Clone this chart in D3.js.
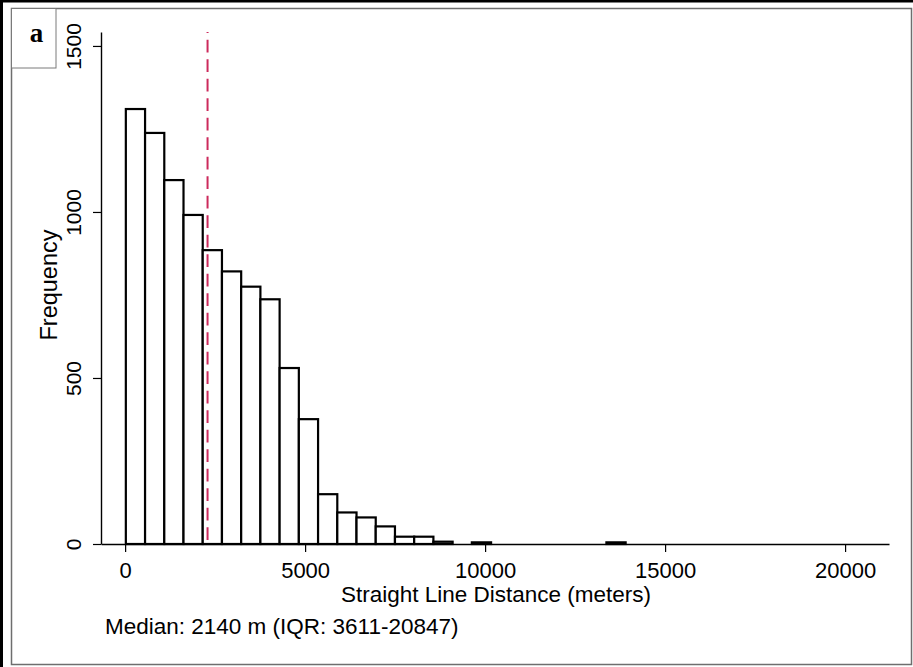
<!DOCTYPE html>
<html>
<head>
<meta charset="utf-8">
<script src="https://cdn.jsdelivr.net/npm/d3@7"></script>
<style>
  html, body { margin: 0; padding: 0; background: #fff; }
  svg { display: block; }
  text { fill: #000; }
</style>
</head>
<body>
<svg id="chart" width="913" height="667"></svg>
<script>
// ---- data ----
const binStart = 20;          // metres, left edge of first bin
const binWidth = 534;         // metres per bin
const counts = [1310, 1238, 1096, 991, 885, 821, 775, 737, 530, 376,
                150, 95, 80, 53, 22, 22, 7, 0, 5, 0,
                0, 0, 0, 0, 0, 5, 0, 0, 0, 0,
                0, 0, 0, 0, 0, 0, 0, 0, 0];
const xTicks = [0, 5000, 10000, 15000, 20000];
const yTicks = [0, 500, 1000, 1500];
const refLineValue = 2290;
const panelLabel = "a";
const xTitle = "Straight Line Distance (meters)";
const yTitle = "Frequency";
const note = "Median: 2140 m (IQR: 3611-20847)";

const sans = "'Liberation Sans', Arial, sans-serif";
const serif = "'Liberation Serif', 'Times New Roman', serif";

const bins = counts.map((c, i) => ({ x0: binStart + i * binWidth, x1: binStart + (i + 1) * binWidth, n: c }))
                   .filter(d => d.n > 0);

const svg = d3.select("#chart");

// frame
svg.append("line").attr("x1", 0).attr("y1", 1.2).attr("x2", 913).attr("y2", 1.2)
   .attr("stroke", "#000").attr("stroke-width", 2.5);
svg.append("line").attr("x1", 1.5).attr("y1", 0).attr("x2", 1.5).attr("y2", 667)
   .attr("stroke", "#000").attr("stroke-width", 3);
svg.append("rect").attr("x", 11.5).attr("y", 8.5).attr("width", 900).attr("height", 656)
   .attr("fill", "#fff").attr("stroke", "#6e6e6e").attr("stroke-width", 1.5);

// scales
const x = d3.scaleLinear().domain([-670, 21220]).range([101, 889]);
const y = d3.scaleLinear().domain([0, 1542]).range([544, 32]);

// bars
svg.append("g").selectAll("rect").data(bins).join("rect")
  .attr("x", d => x(d.x0))
  .attr("y", d => y(d.n))
  .attr("width", d => x(d.x1) - x(d.x0))
  .attr("height", d => y(0) - y(d.n))
  .attr("fill", "#fff")
  .attr("stroke", "#000")
  .attr("stroke-width", 2.2);

// reference line
svg.append("line")
  .attr("x1", x(refLineValue)).attr("x2", x(refLineValue))
  .attr("y1", y(1542)).attr("y2", y(0))
  .attr("stroke", "#cc2a5c").attr("stroke-width", 2)
  .attr("stroke-dasharray", "12.7,6.8")
  .attr("stroke-dashoffset", 11.8);

// axes
const xAxis = svg.append("g").attr("transform", `translate(0,${y(0)})`)
  .call(d3.axisBottom(x).tickValues(xTicks).tickFormat(d3.format("d")).tickSize(8).tickSizeOuter(0));
xAxis.select(".domain").attr("stroke-width", 1.4);
xAxis.selectAll(".tick line").attr("stroke-width", 1.2);
xAxis.selectAll(".tick text").attr("font-size", 22).style("font-family", sans)
  .attr("y", 0).attr("dy", 0).attr("transform", "translate(0,34)");

const yAxis = svg.append("g").attr("transform", `translate(${x(-670)},0)`)
  .call(d3.axisLeft(y).tickValues(yTicks).tickFormat(d3.format("d")).tickSize(8).tickSizeOuter(0));
yAxis.select(".domain").attr("stroke-width", 1.4);
yAxis.selectAll(".tick line").attr("stroke-width", 1.2);
yAxis.selectAll(".tick text")
  .attr("font-size", 21).style("font-family", sans)
  .attr("x", 0).attr("dy", 0)
  .attr("text-anchor", "middle")
  .attr("transform", "translate(-20,0) rotate(-90)");

// titles
svg.append("text").attr("x", 496).attr("y", 602).attr("text-anchor", "middle")
  .style("font-family", sans).attr("font-size", 22.5).text(xTitle);
svg.append("text").attr("transform", "translate(57,285) rotate(-90)").attr("text-anchor", "middle")
  .style("font-family", sans).attr("font-size", 23.5).text(yTitle);
svg.append("text").attr("x", 105).attr("y", 634).style("font-family", sans)
  .attr("font-size", 22.5).text(note);

// panel label box
svg.append("rect").attr("x", 11.5).attr("y", 8.5).attr("width", 44.5).attr("height", 59.5)
  .attr("fill", "#fff").attr("stroke", "#7a7a7a").attr("stroke-width", 1);
svg.append("text").attr("x", 36.5).attr("y", 42).attr("text-anchor", "middle")
  .style("font-family", serif).attr("font-weight", "bold")
  .attr("font-size", 27).text(panelLabel);
</script>
</body>
</html>
